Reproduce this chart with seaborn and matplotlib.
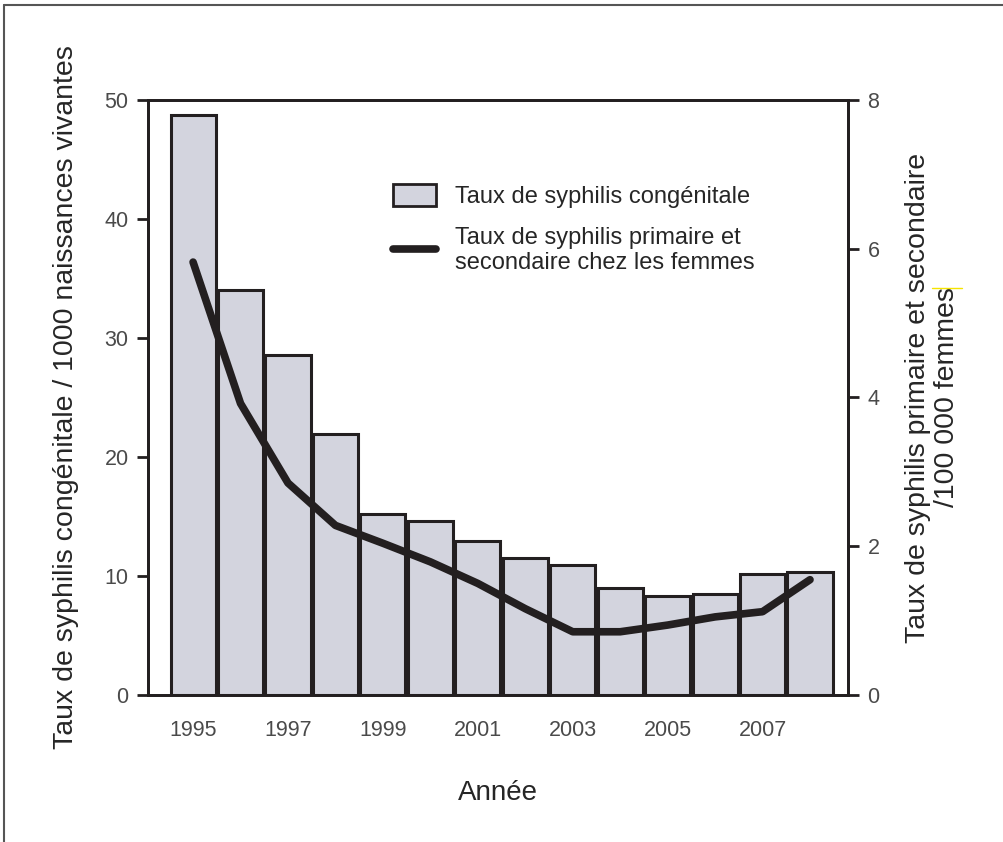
import pandas as pd
import seaborn as sns
import matplotlib.pyplot as plt
from matplotlib.patches import Patch
from matplotlib.lines import Line2D

annees = [1995, 1996, 1997, 1998, 1999, 2000, 2001, 2002, 2003, 2004, 2005, 2006, 2007, 2008]
congenitale = [48.7, 34.0, 28.6, 21.9, 15.2, 14.6, 12.9, 11.5, 10.9, 9.0, 8.3, 8.5, 10.2, 10.3]
femmes = [5.82, 3.92, 2.85, 2.28, 2.04, 1.79, 1.50, 1.16, 0.85, 0.85, 0.94, 1.05, 1.12, 1.55]

df = pd.DataFrame({'annee': annees, 'congenitale': congenitale, 'femmes': femmes})

sns.set_style('white')
plt.rcParams['font.family'] = ['Liberation Sans', 'DejaVu Sans']

fig = plt.figure(figsize=(10.04, 8.42), dpi=100)
ax = fig.add_axes([0.1474, 0.1746, 0.6972, 0.7067])

bar_col = '#d3d4de'
edge_col = '#231f20'
sns.barplot(data=df, x='annee', y='congenitale', native_scale=True, width=0.95,
            color=bar_col, edgecolor=edge_col, linewidth=2.2, saturation=1, ax=ax)

ax2 = ax.twinx()
sns.lineplot(data=df, x='annee', y='femmes', color=edge_col, linewidth=5.5, ax=ax2)

ax.set_xlim(1994.05, 2008.8)
ax.set_ylim(0, 50)
ax2.set_ylim(0, 8)
ax.set_yticks([0, 10, 20, 30, 40, 50])
ax2.set_yticks([0, 2, 4, 6, 8])
ax.set_xticks(annees)
ax.set_xticklabels([str(a) if a % 2 == 1 else '' for a in annees])

for a in (ax, ax2):
    for s in a.spines.values():
        s.set_color('#231f20')
        s.set_linewidth(2)
    a.tick_params(direction='out', length=8, width=2, color='#231f20',
                  labelsize=15.5, labelcolor='#4a4a4a', pad=6)
ax.tick_params(axis='x', pad=10)
ax.tick_params(axis='y', left=True)
ax2.tick_params(axis='y', right=True)

ax.set_xlabel('Année', fontsize=20, labelpad=28)
ax.set_ylabel('Taux de syphilis congénitale / 1000 naissances vivantes', fontsize=20.5, labelpad=18)
ax2.set_ylabel('Taux de syphilis primaire et secondaire\n/100 000 femmes', fontsize=20.5,
               labelpad=18, rotation=90, linespacing=1.15)

handles = [Patch(facecolor=bar_col, edgecolor=edge_col, linewidth=2),
           Line2D([], [], color=edge_col, linewidth=5.5)]
labels = ['Taux de syphilis congénitale',
          'Taux de syphilis primaire et\nsecondaire chez les femmes']
ax.legend(handles, labels, loc='upper left', bbox_to_anchor=(0.32, 0.895), frameon=False,
          fontsize=17, handlelength=1.8, handleheight=1.1, handletextpad=0.8,
          labelspacing=0.8)

# thin frame around the picture
fig.add_artist(Line2D([0.004, 0.004], [0, 0.994], color='#555555', linewidth=1.5))
fig.add_artist(Line2D([0.004, 1], [0.994, 0.994], color='#555555', linewidth=1.5))
fig.add_artist(Line2D([0.928, 0.958], [0.658, 0.658], color='#f5e400', linewidth=1))

fig.savefig('out.png', dpi=100)
